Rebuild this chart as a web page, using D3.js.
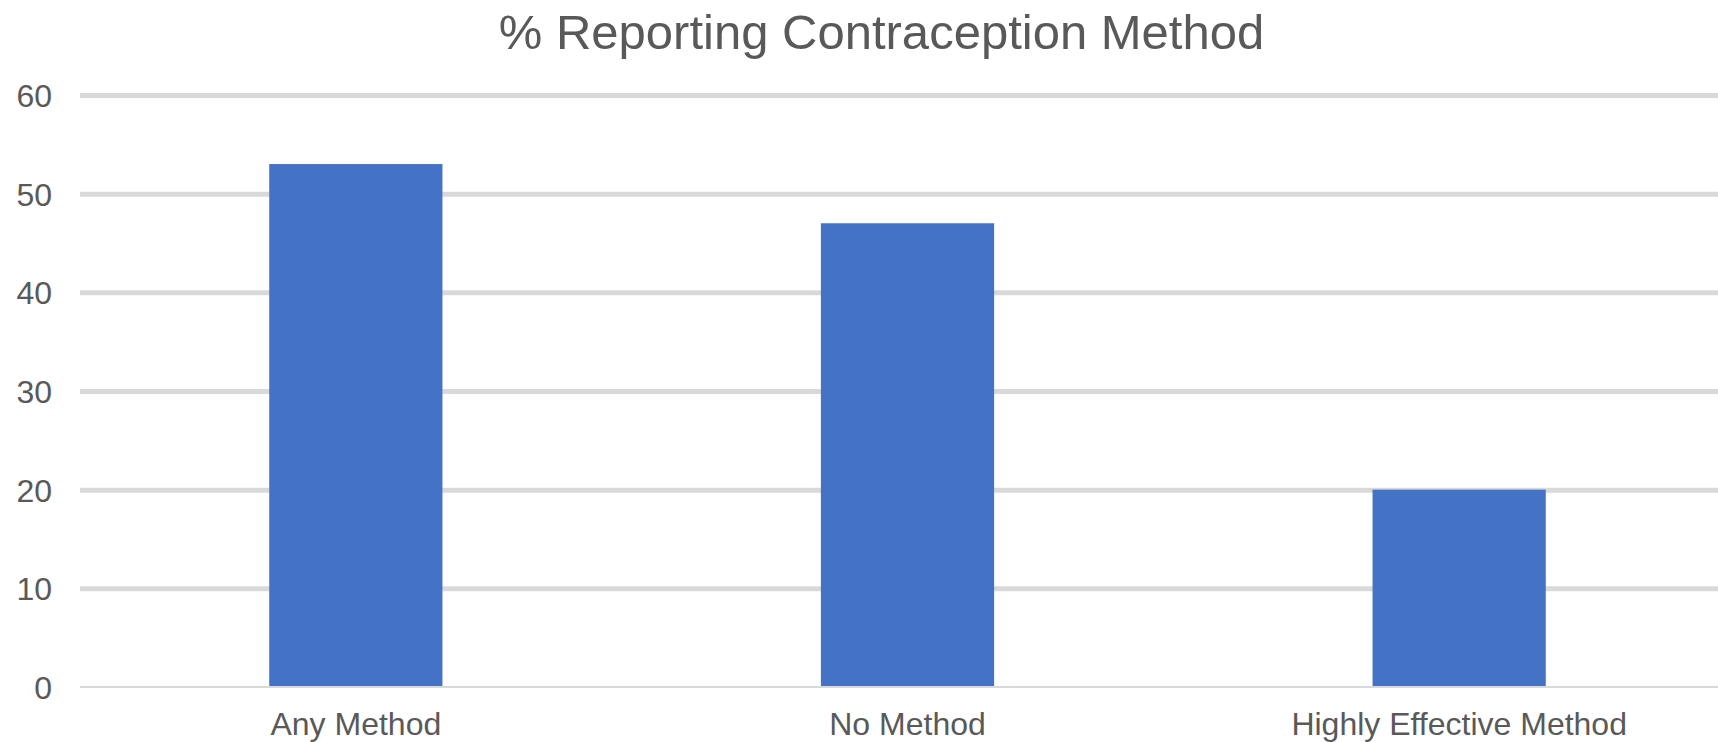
<!DOCTYPE html>
<html>
<head>
<meta charset="utf-8">
<script src="https://cdn.jsdelivr.net/npm/d3@7"></script>
<style>
  html, body { margin: 0; padding: 0; background: #fff; }
  svg { display: block; font-family: "Liberation Sans", Arial, sans-serif; }
</style>
</head>
<body>
<svg id="chart" width="1718" height="742"></svg>
<script>
const categories = ["Any Method", "No Method", "Highly Effective Method"];
const values = [53, 47, 20];
const yTicks = [0, 10, 20, 30, 40, 50, 60];
const title = "% Reporting Contraception Method";

const W = 1718, H = 742;
const svg = d3.select("#chart");

const x = d3.scaleBand()
  .domain(categories)
  .range([80, 1735])
  .paddingInner(0.686)
  .paddingOuter(0.343);

const y = d3.scaleLinear()
  .domain([0, 60])
  .range([687, 95]);

// gridlines
const grid = svg.append("g")
  .call(d3.axisLeft(y).tickValues(yTicks.filter(d => d > 0)).tickSize(-(1735 - 80)).tickFormat(""))
  .attr("transform", "translate(80,0)");
grid.select(".domain").remove();
grid.selectAll(".tick line").attr("stroke", "#d9d9d9").attr("stroke-width", 5);

// tick labels
const yAxis = svg.append("g")
  .attr("transform", "translate(52,0)")
  .call(d3.axisLeft(y).tickValues(yTicks).tickSize(0).tickPadding(0));
yAxis.select(".domain").remove();
yAxis.selectAll("text")
  .attr("font-size", 32)
  .attr("fill", "#595959")
  .attr("font-family", "Liberation Sans, Arial, sans-serif")
  .attr("dy", "0.36em");

// bars
svg.append("g").selectAll("rect")
  .data(values)
  .join("rect")
  .attr("x", (d, i) => x(categories[i]))
  .attr("width", x.bandwidth())
  .attr("y", d => y(d))
  .attr("height", d => y(0) - y(d))
  .attr("fill", "#4472c4");

// baseline
svg.append("line")
  .attr("x1", 80).attr("x2", 1735)
  .attr("y1", y(0)).attr("y2", y(0))
  .attr("stroke", "#d9d9d9").attr("stroke-width", 2);

// x labels
const xAxis = svg.append("g")
  .attr("transform", `translate(0,${y(0)})`)
  .call(d3.axisBottom(x).tickSize(0).tickPadding(0));
xAxis.select(".domain").remove();
xAxis.selectAll("text")
  .attr("font-size", 32)
  .attr("fill", "#595959")
  .attr("font-family", "Liberation Sans, Arial, sans-serif")
  .attr("dy", null)
  .attr("y", 48);

// title
svg.append("text")
  .attr("x", 881.5)
  .attr("y", 49)
  .attr("text-anchor", "middle")
  .attr("font-size", 49)
  .attr("fill", "#595959")
  .text(title);
</script>
</body>
</html>
